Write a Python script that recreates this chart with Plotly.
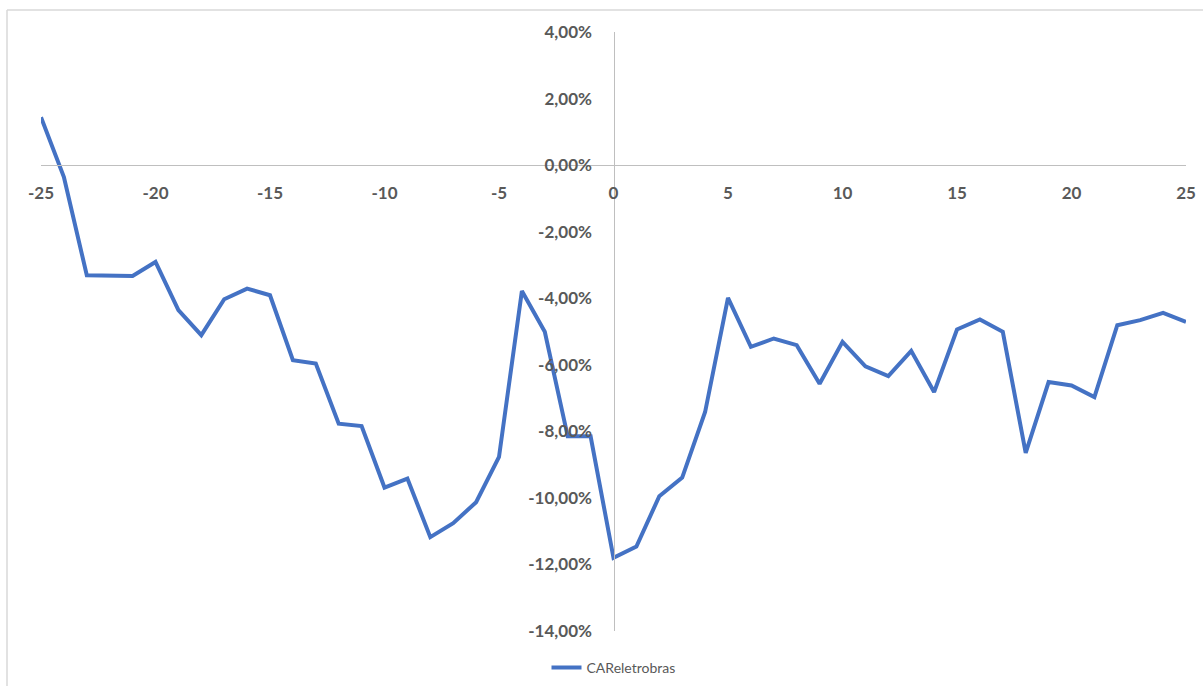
import plotly.graph_objects as go

days = list(range(-25, 26))
car_eletrobras = [
    1.44, -0.36, -3.31, -3.33, -3.33, -2.91, -4.36, -5.11, -4.03, -3.71,
    -3.91, -5.86, -5.96, -7.77, -7.84, -9.69, -9.42, -11.18, -10.76, -10.13,
    -8.77, -3.78, -5.01, -8.15, -8.15, -11.80, -11.46, -9.95, -9.39, -7.42,
    -3.99, -5.46, -5.21, -5.41, -6.57, -5.31, -6.05, -6.34, -5.58, -6.82,
    -4.94, -4.64, -5.01, -8.65, -6.52, -6.62, -6.97, -4.81, -4.66, -4.44,
    -4.71,
]
car_values = [v / 100 for v in car_eletrobras]
series_name = "CAReletrobras"
x_ticks = list(range(-25, 30, 5))
x_tick_labels = [str(v) for v in x_ticks]
y_ticks_pct = [4, 2, 0, -2, -4, -6, -8, -10, -12, -14]
y_ticks = [v / 100 for v in y_ticks_pct]
y_tick_labels = [f"{v:.2f}%".replace(".", ",") for v in y_ticks_pct]

W, H = 1203, 686
L, R, T, B = 41, 17, 32, 55
plot_w = W - L - R
plot_h = H - T - B

fig = go.Figure()
fig.add_trace(go.Scatter(
    x=days, y=car_values, mode="lines", name=series_name,
    line=dict(color="#4472C4", width=4),
    showlegend=True,
))

axis_font = dict(family="Lato", size=17, color="#595959", weight="bold")

fig.update_layout(
    width=W, height=H,
    margin=dict(l=L, r=R, t=T, b=B, autoexpand=False),
    paper_bgcolor="white", plot_bgcolor="white",
    showlegend=True,
    legend=dict(
        orientation="h", x=0.5, xanchor="center",
        y=(-(668 - (H - B))) / plot_h, yanchor="middle",
        font=dict(family="Lato", size=14, color="#595959"),
        itemwidth=30,
    ),
    xaxis=dict(
        range=[-25, 25], tickvals=x_ticks, ticktext=x_tick_labels,
        showgrid=False, zeroline=False,
        showline=True, linecolor="#bfbfbf", linewidth=1.3,
        anchor="free", position=0.14 / 0.18,
        ticks="", tickfont=axis_font, ticklabelstandoff=12,
        automargin=False,
    ),
    yaxis=dict(
        range=[-0.14, 0.04], tickvals=y_ticks, ticktext=y_tick_labels,
        showgrid=False, zeroline=False,
        showline=True, linecolor="#bfbfbf", linewidth=1.3,
        anchor="free", position=0.5,
        ticks="", tickfont=axis_font, ticklabelstandoff=18,
        automargin=False,
    ),
)

# chart frame (top and left edges visible in the reference)
fx0 = (7 - L) / plot_w
fy1 = (H - B - 10) / plot_h
fig.add_shape(type="line", xref="paper", yref="paper",
              x0=fx0, x1=1.05, y0=fy1, y1=fy1,
              line=dict(color="#d9d9d9", width=1.5))
fig.add_shape(type="line", xref="paper", yref="paper",
              x0=fx0, x1=fx0, y0=fy1, y1=-0.2,
              line=dict(color="#d9d9d9", width=1.5))

fig.write_html("out.html")
